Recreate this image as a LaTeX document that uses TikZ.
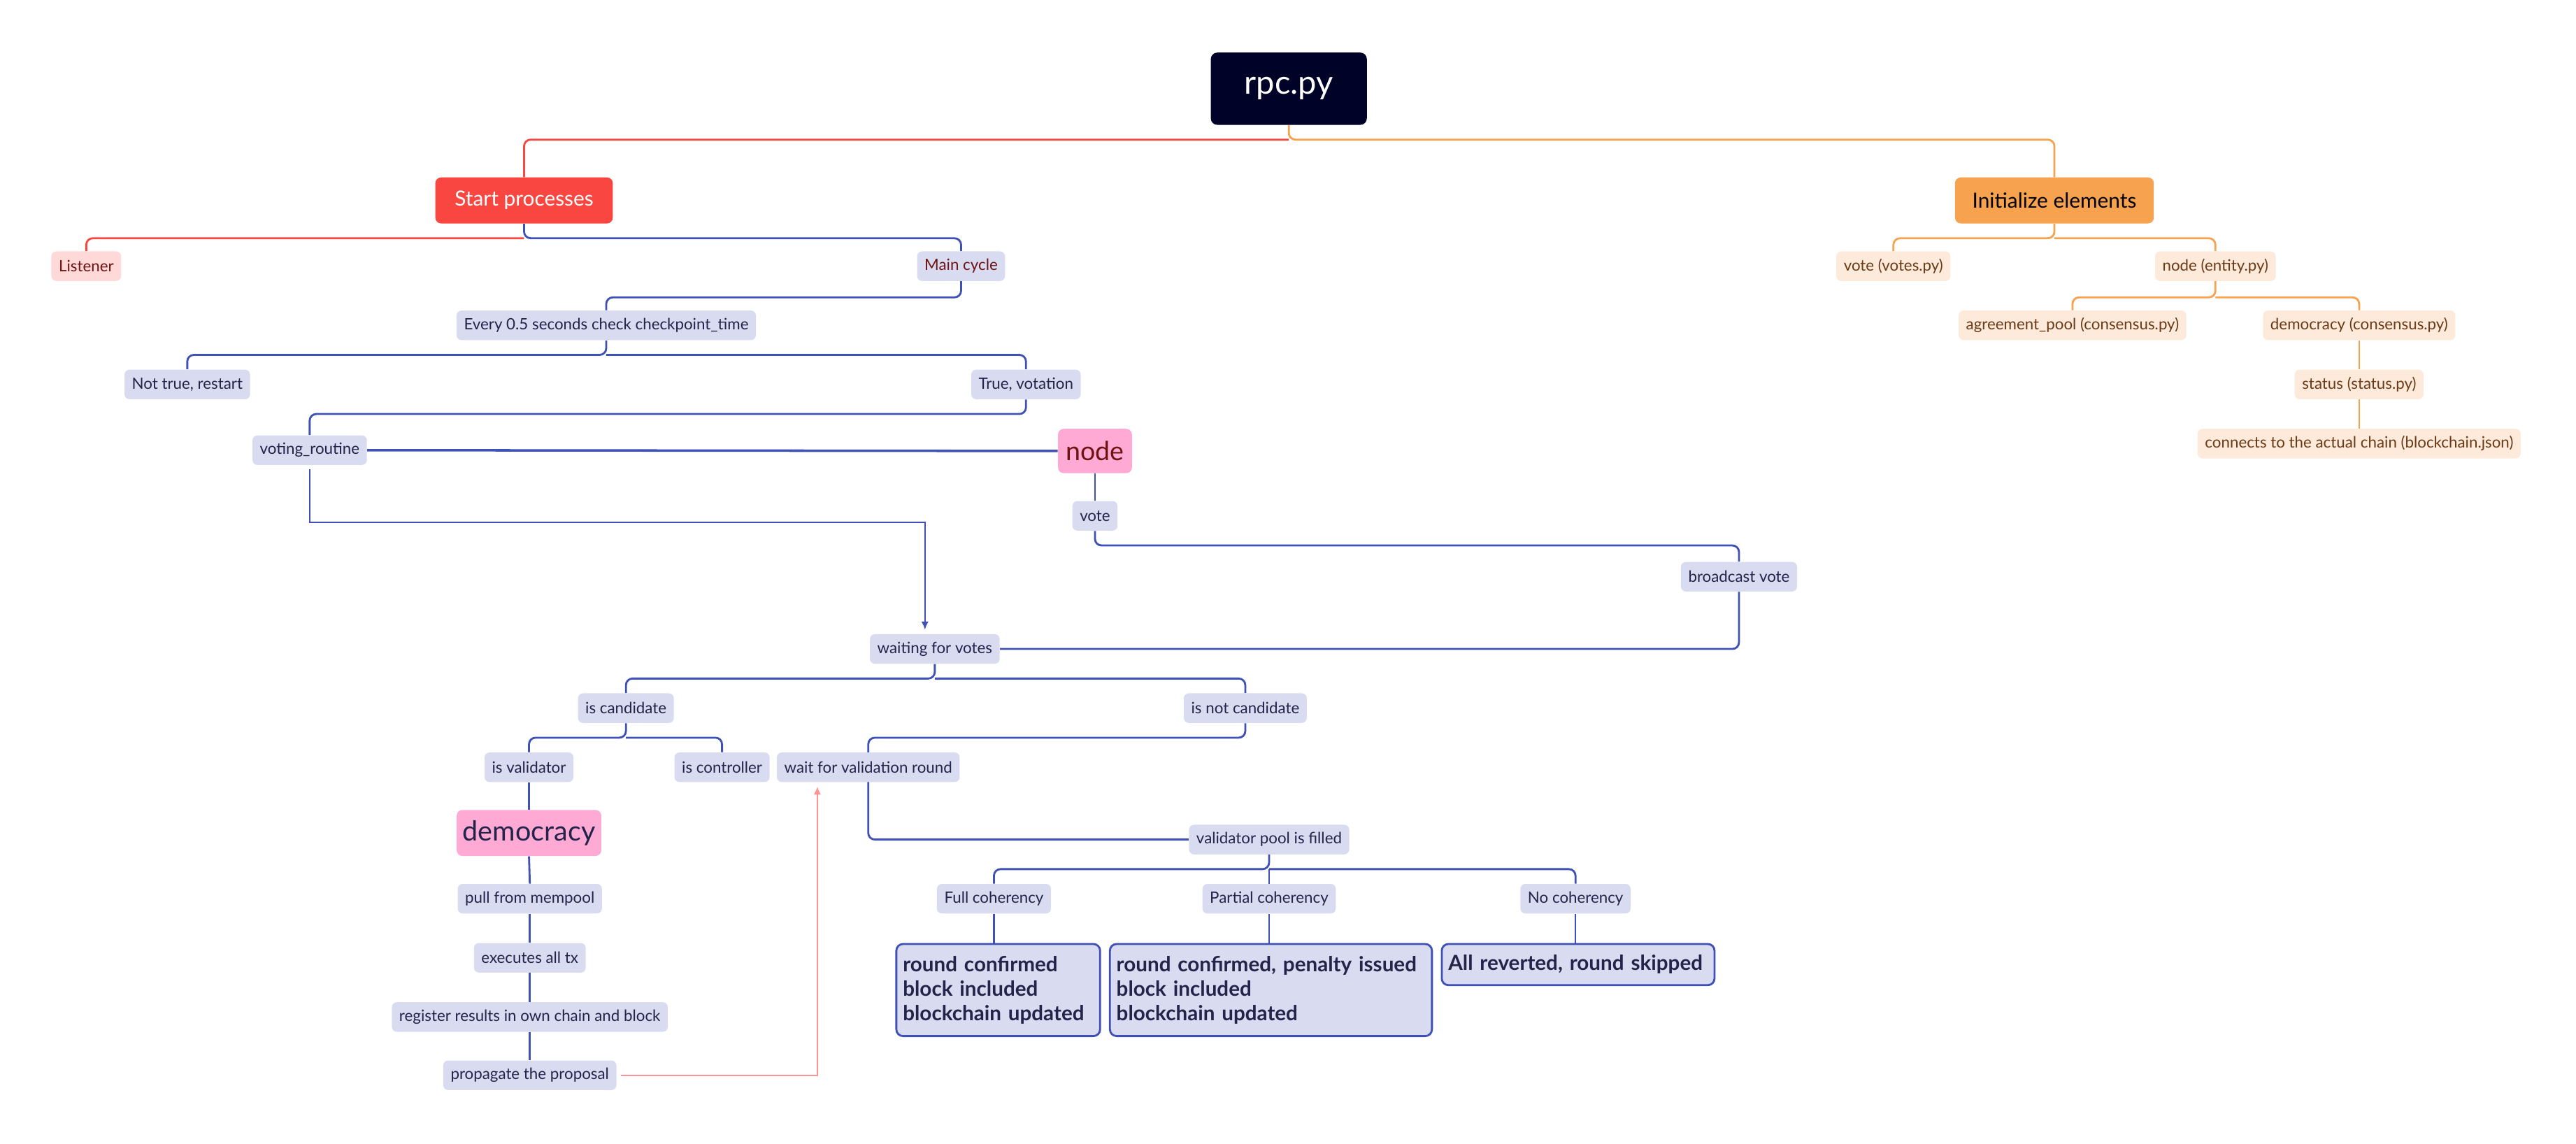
\documentclass[tikz,border=0pt]{standalone}
\usepackage{fontspec}
\setmainfont{Lato}
\usetikzlibrary{arrows.meta}

\definecolor{rpcfill}{HTML}{010227}
\definecolor{redc}{HTML}{FA4640}
\definecolor{orangec}{HTML}{F6A24F}
\definecolor{bluec}{HTML}{3F51B5}
\definecolor{lavc}{HTML}{D9DBF0}
\definecolor{pinkc}{HTML}{FFAAD5}
\definecolor{lpinkc}{HTML}{FFD9D8}
\definecolor{peachc}{HTML}{FDEADA}
\definecolor{salmonc}{HTML}{FF9393}
\definecolor{navyt}{HTML}{22244A}
\definecolor{maroont}{HTML}{6E1212}
\definecolor{brownt}{HTML}{6B3A16}

\pgfdeclarelayer{bg}
\pgfsetlayers{bg,main}

\tikzset{
  base/.style={rounded corners=3pt, inner xsep=4.5pt, inner ysep=0pt,
    minimum height=18pt, font=\fontsize{9.5}{10}\selectfont},
  lav/.style={base, fill=lavc, text=navyt},
  lavred/.style={base, fill=lavc, text=maroont},
  peach/.style={base, fill=peachc, text=brownt},
  lpink/.style={base, fill=lpinkc, text=maroont},
  topic/.style={rounded corners=3.5pt, inner sep=0pt, minimum height=28pt,
    font=\fontsize{12.7}{14}\selectfont},
  hot/.style={rounded corners=3.5pt, fill=pinkc, inner sep=0pt},
  result/.style={rounded corners=4pt, fill=lavc, draw=bluec, line width=1.2pt,
    text=navyt, align=left, inner xsep=4pt, inner ysep=3pt,
    font=\fontsize{12.6}{15}\selectfont\bfseries, anchor=north west},
  bl/.style={draw=bluec, line width=1.2pt, rounded corners=4pt},
  blthin/.style={draw=bluec, line width=1pt},
  rl/.style={draw=redc, line width=1.2pt, rounded corners=4pt},
  ol/.style={draw=orangec, line width=1.2pt, rounded corners=4pt},
  relarrow/.style={line width=1pt, -{Latex[length=5pt,width=4.5pt]}}
}

\begin{document}
\begin{tikzpicture}[x=1pt,y=-1pt]
\useasboundingbox (0,0) rectangle (1568,696);

% central topic and main branches
\node[rounded corners=4pt, fill=rpcfill, text=white, minimum width=95pt,
  minimum height=44pt, inner sep=0pt, font=\fontsize{20}{22}\selectfont] (rpc) at (784.5,54) {rpc.py};
\node[topic, fill=redc, text=white, minimum width=108pt] (start) at (319,122) {Start processes};
\node[topic, fill=orangec, text=black, minimum width=121pt] (init) at (1250.5,122) {Initialize elements};

% start processes branch
\node[lpink] (listener) at (52.5,162) {Listener};
\node[lavred] (maincycle) at (585,162) {Main cycle};
\node[lav] (every) at (369,198) {Every 0.5 seconds check checkpoint\_time};
\node[lav] (nottrue) at (114,234) {Not true, restart};
\node[lav] (truev) at (624.5,234) {True, votation};
\node[lav] (voting) at (188.5,274) {voting\_routine};
\node[hot, text=maroont, minimum width=45pt, minimum height=27pt,
  font=\fontsize{16}{18}\selectfont] (nodep) at (666.5,274.5) {node};
\node[lav] (vote) at (666.5,314) {vote};
\node[lav] (bcast) at (1058.5,351) {broadcast vote};
\node[lav] (waiting) at (569,395) {waiting for votes};
\node[lav] (iscand) at (381,431) {is candidate};
\node[lav] (isnot) at (758,431) {is not candidate};
\node[lav] (isval) at (322,467) {is validator};
\node[lav] (isctrl) at (439.5,467) {is controller};
\node[lav] (waitval) at (528.5,467) {wait for validation round};
\node[lav] (vpool) at (772.5,511) {validator pool is filled};
\node[lav] (full) at (605,547) {Full coherency};
\node[lav] (partial) at (772.5,547) {Partial coherency};
\node[lav] (nocoh) at (959,547) {No coherency};
\node[result, text width=116pt, minimum height=56pt] (res1) at (545,574)
  {round confirmed\\block included\\blockchain updated};
\node[result, text width=188pt, minimum height=56pt] (res2) at (675,574)
  {round confirmed, penalty issued\\block included\\blockchain updated};
\node[result, text width=158pt, minimum height=25pt] (res3) at (877,574)
  {All reverted, round skipped};
\node[hot, text=navyt, minimum width=88pt, minimum height=28pt,
  font=\fontsize{16.8}{18}\selectfont] (democ) at (322,507) {democracy};
\node[lav] (pull) at (322.5,547) {pull from mempool};
\node[lav] (exec) at (322.5,583) {executes all tx};
\node[lav] (reg) at (322.5,619) {register results in own chain and block};
\node[lav] (prop) at (322.5,654.5) {propagate the proposal};

% initialize elements branch
\node[peach] (votesp) at (1152.5,162) {vote (votes.py)};
\node[peach] (entity) at (1348.5,162) {node (entity.py)};
\node[peach] (agree) at (1261.5,198) {agreement\_pool (consensus.py)};
\node[peach] (democc) at (1436,198) {democracy (consensus.py)};
\node[peach] (status) at (1436,234) {status (status.py)};
\node[peach] (connects) at (1436,270) {connects to the actual chain (blockchain.json)};

% junction points of the tree connectors
\coordinate (j0) at (784.5,85);
\coordinate (j1) at (319,145);
\coordinate (jm) at (585,181);
\coordinate (j2) at (369,216);
\coordinate (jt) at (624.5,252);
\coordinate (jv) at (666.5,332);
\coordinate (j3) at (569,413);
\coordinate (j4) at (381,449);
\coordinate (jn) at (758,449);
\coordinate (jw) at (528.5,449);
\coordinate (jw2) at (528.5,511);
\coordinate (j5) at (772.5,529);
\coordinate (j6) at (1250.5,145);
\coordinate (j7) at (1348.5,181);
\coordinate (k1) at (563,318);

\begin{pgfonlayer}{bg}
  % root connectors
  \draw[rl] (j0) -| (start.north);
  \draw[ol] (rpc.south) -- (j0) -| (init.north);
  % start processes
  \draw[rl] (j1) -| (listener.north);
  \draw[bl] (start.south) -- (j1) -| (maincycle.north);
  \draw[bl] (maincycle.south) -- (jm) -| (every.north);
  \draw[bl] (every.south) -- (j2) -| (nottrue.north);
  \draw[bl] (j2) -| (truev.north);
  \draw[bl] (truev.south) -- (jt) -| (voting.north);
  \draw[draw=bluec, line width=1.5pt] (voting.east) -- (nodep.west);
  \draw[blthin] (nodep.south) -- (vote.north);
  \draw[bl] (vote.south) -- (jv) -| (bcast.north);
  \draw[bl] (bcast.south) |- (waiting.east);
  \draw[relarrow, draw=bluec, shorten <=2.5pt, shorten >=2.5pt]
    (voting.south) |- (k1) -- (waiting.north -| k1);
  \draw[bl] (waiting.south) -- (j3) -| (iscand.north);
  \draw[bl] (j3) -| (isnot.north);
  \draw[bl] (iscand.south) -- (j4) -| (isval.north);
  \draw[bl] (j4) -| (isctrl.north);
  \draw[bl] (isnot.south) -- (jn) -- (jw) -- (jw2) -- (vpool.west);
  \draw[bl] (vpool.south) -- (j5) -| (full.north);
  \draw[bl] (j5) -| (nocoh.north);
  \draw[bl] (j5) -- (partial.north);
  \draw[blthin] (full.south) -- (full.south |- res1.north);
  \draw[blthin] (partial.south) -- (partial.south |- res2.north);
  \draw[blthin] (nocoh.south) -- (nocoh.south |- res3.north);
  \draw[bl] (isval.south) -- (democ.north);
  \draw[bl] (democ.south) -- (pull.north);
  \draw[bl] (pull.south) -- (exec.north);
  \draw[bl] (exec.south) -- (reg.north);
  \draw[bl] (reg.south) -- (prop.north);
  \draw[relarrow, draw=salmonc, shorten <=2.5pt, shorten >=2.5pt]
    (prop.east) -| (waitval.south -| 497.5,0);
  % initialize elements
  \draw[ol] (init.south) -- (j6) -| (votesp.north);
  \draw[ol] (j6) -| (entity.north);
  \draw[ol] (entity.south) -- (j7) -| (agree.north);
  \draw[ol] (j7) -| (democc.north);
  \draw[ol] (democc.south) -- (status.north);
  \draw[ol] (status.south) -- (connects.north);
\end{pgfonlayer}
\end{tikzpicture}
\end{document}
